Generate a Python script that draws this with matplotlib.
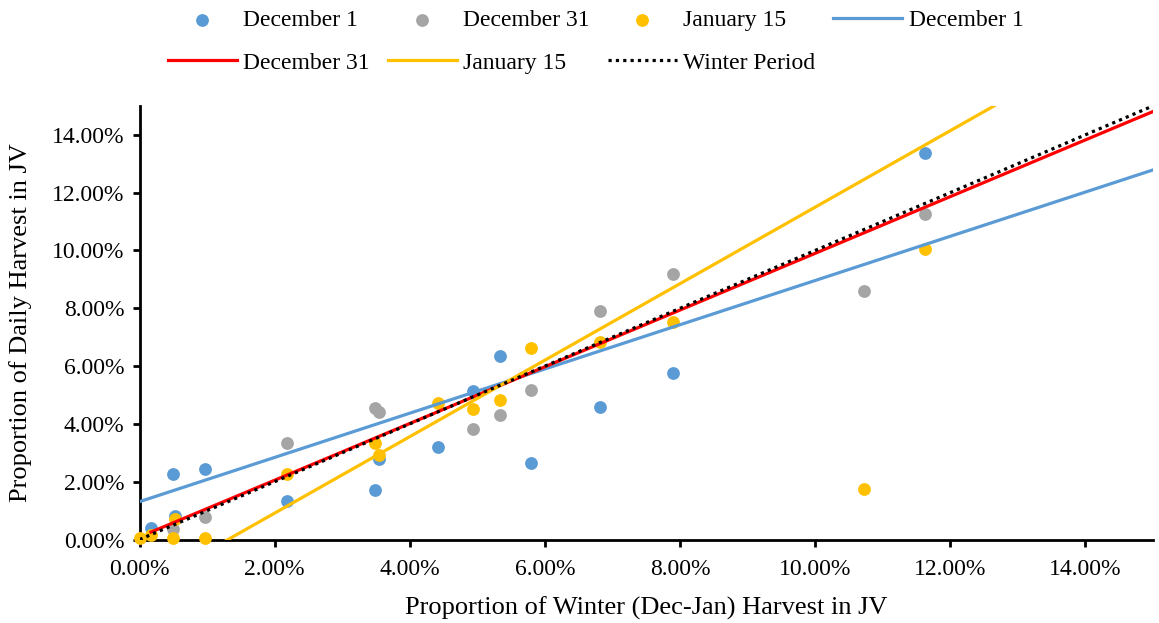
import matplotlib
matplotlib.use("Agg")
import numpy as np
import matplotlib.pyplot as plt
from matplotlib.ticker import PercentFormatter, MultipleLocator

plt.rcParams['font.family'] = ['Liberation Serif', 'DejaVu Serif']

# scatter data (percent)
dec1_x = [0.17, 0.50, 0.52, 0.97, 2.18, 3.49, 3.54, 4.42, 4.93, 5.34, 5.79, 6.81, 7.90, 11.63]
dec1_y = [0.41, 2.28, 0.81, 2.44, 1.34, 1.71, 2.77, 3.19, 5.14, 6.35, 2.64, 4.60, 5.77, 13.36]

dec31_x = [0.50, 0.97, 2.18, 3.49, 3.54, 4.93, 5.34, 5.79, 6.81, 7.90, 10.73, 11.63]
dec31_y = [0.36, 0.79, 3.33, 4.56, 4.42, 3.82, 4.31, 5.17, 7.91, 9.18, 8.61, 11.25]

jan15_x = [0.00, 0.17, 0.50, 0.52, 0.97, 2.18, 3.49, 3.54, 4.42, 4.93, 5.34, 5.79, 6.81, 7.90, 10.73, 11.63]
jan15_y = [0.04, 0.16, 0.04, 0.70, 0.04, 2.27, 3.35, 2.91, 4.71, 4.52, 4.82, 6.64, 6.84, 7.54, 1.75, 10.06]

# trendlines: y = slope * x + intercept
trend_names = ['December 1', 'December 31', 'January 15', 'Winter Period']
trend_slope = [0.765, 0.981, 1.323, 1.0]
trend_icpt = [1.31, 0.09, -1.733, 0.0]
trend_start = [0.0, 0.17, 0.0, 0.0]
trend_end = [15.0, 15.0, 15.0, 15.0]

c_blue = '#5B9BD5'
c_gray = '#A5A5A5'
c_gold = '#FFC000'
c_red = '#FF0000'

fig = plt.figure(figsize=(11.59, 6.23), dpi=100)
ax = fig.add_axes([0.1204, 0.134, 0.8744, 0.6960])

ms = 85
pts = []
pts.append(ax.scatter(dec1_x, dec1_y, s=ms, color=c_blue, label='December 1', clip_on=False, zorder=3, linewidths=0))
pts.append(ax.scatter(dec31_x, dec31_y, s=ms, color=c_gray, label='December 31', clip_on=False, zorder=3, linewidths=0))
pts.append(ax.scatter(jan15_x, jan15_y, s=ms, color=c_gold, label='January 15', clip_on=False, zorder=3, linewidths=0))

line_colors = [c_blue, c_red, c_gold, 'black']
line_styles = ['-', '-', '-', (0, (1, 1.3))]
lines = []
for i in range(4):
    xs = np.array([trend_start[i], trend_end[i]])
    ys = trend_slope[i] * xs + trend_icpt[i]
    ln, = ax.plot(xs, ys, color=line_colors[i], lw=2.3, ls=line_styles[i],
                  label=trend_names[i], zorder=4 + i)
    lines.append(ln)

ax.set_xlim(0, 15)
ax.set_ylim(0, 15)
ax.xaxis.set_major_locator(MultipleLocator(2))
ax.yaxis.set_major_locator(MultipleLocator(2))
ax.xaxis.set_major_formatter(PercentFormatter(100, decimals=2))
ax.yaxis.set_major_formatter(PercentFormatter(100, decimals=2))
ax.tick_params(labelsize=17, width=2, length=5, color='black')
ax.tick_params(axis='x', pad=9)
ax.tick_params(axis='y', pad=6)
for s in ['top', 'right']:
    ax.spines[s].set_visible(False)
for s in ['left', 'bottom']:
    ax.spines[s].set_linewidth(2)

ax.set_xlabel('Proportion of Winter (Dec-Jan) Harvest in JV', fontsize=19, labelpad=12)
ax.set_ylabel('Proportion of Daily Harvest in JV', fontsize=19, labelpad=14)

# legend fills column by column, so order the handles to read row-wise
order = [pts[0], lines[1], pts[1], lines[2], pts[2], lines[3], lines[0]]
fig.legend(handles=order, labels=[h.get_label() for h in order],
           loc='upper center', bbox_to_anchor=(0.514, 1.019), ncol=4, frameon=False,
           fontsize=17, handlelength=2.92, handletextpad=0.28, columnspacing=0.76,
           labelspacing=0.9, scatterpoints=1)

fig.savefig('out.png', dpi=100)
